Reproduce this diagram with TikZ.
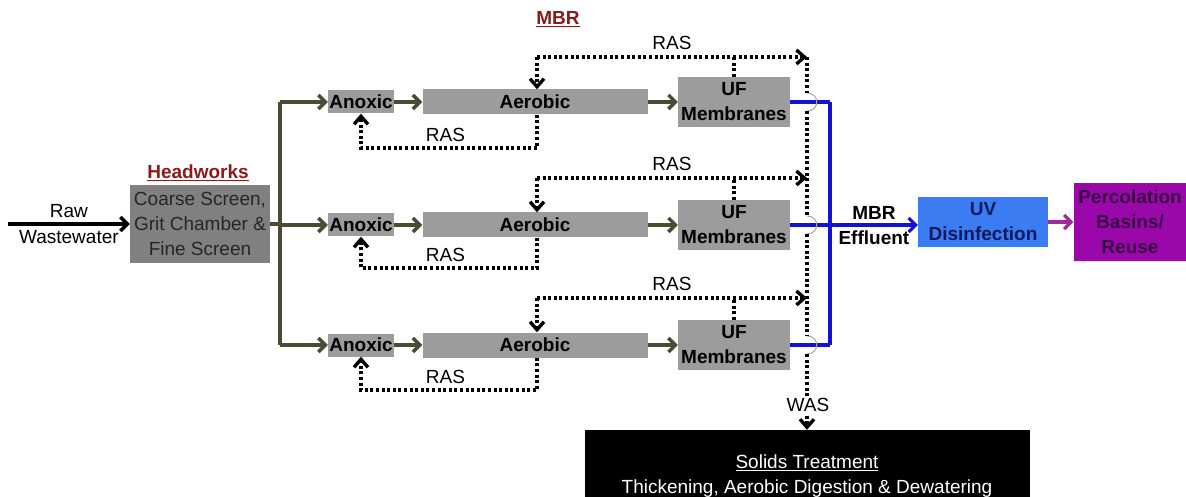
\documentclass[tikz,border=0pt]{standalone}
\usepackage{fontspec}
\setmainfont{Liberation Sans}
\usetikzlibrary{arrows.meta}

\definecolor{flowbrown}{HTML}{4D4A33}
\definecolor{tankgray}{HTML}{9C9C9C}
\definecolor{headgray}{HTML}{808080}
\definecolor{effblue}{HTML}{1212D6}
\definecolor{uvblue}{HTML}{3B7CF3}
\definecolor{uvtext}{HTML}{0B1A5C}
\definecolor{percpurple}{HTML}{9A08AA}
\definecolor{perctext}{HTML}{3A0046}
\definecolor{recmag}{HTML}{A0289A}
\definecolor{titlered}{HTML}{8B1A1A}

\newcommand{\diagfont}{\fontsize{19}{25}\selectfont}

\tikzset{
	tank/.style={fill=tankgray, inner sep=1pt, align=center, font=\diagfont\bfseries},
	flowline/.style={flowbrown, line width=3.4pt},
	flow/.style={flowline, -{Straight Barb[length=7pt,width=14pt]}},
	rasline/.style={line width=3.4pt, dash pattern=on 3pt off 2.6pt},
	ras/.style={rasline, -{Straight Barb[length=8pt,width=14pt]}},
	eff/.style={effblue, line width=3.2pt},
	jump/.style={gray!70, line width=1pt},
	title/.style={titlered, font=\diagfont\bfseries}
}

\begin{document}
\begin{tikzpicture}[x=1pt, y=-1pt, font=\diagfont]
\useasboundingbox (0,0) rectangle (1186,497);

% headworks
\node[title] (mbrtitle) at (558,19) {\underline{MBR}};
\node[title] (headtitle) at (198,173) {\underline{Headworks}};
\node[fill=headgray, text=black!85, align=center, inner sep=0pt,
	minimum width=140pt, minimum height=78pt] (head) at (200,224)
	{Coarse Screen,\\Grit Chamber \&\\Fine Screen};
\coordinate (rawin) at (8,224);
\draw[line width=3.4pt, -{Straight Barb[length=7pt,width=14pt]}] (rawin)
	-- node[above=1pt] {Raw} node[below=1pt] {Wastewater} (head.west |- rawin);

\coordinate (trunk) at (280,224);
\draw[flowline] (head) -- (trunk);

% three MBR trains
\foreach \i/\y/\yt/\yb in {1/102/57/148,2/225/178/268,3/345/298/390}{
	\node[tank, minimum width=66pt, minimum height=23pt] (anox\i) at (361,\y) {Anoxic};
	\node[tank, minimum width=225pt, minimum height=25pt] (aer\i) at (535,\y) {Aerobic};
	\node[tank, minimum width=112pt, minimum height=50pt] (uf\i) at (734,\y) {UF\\Membranes};
	\draw[flow] (trunk |- anox\i) -- (anox\i);
	\draw[flow] (anox\i) -- (aer\i);
	\draw[flow] (aer\i) -- (uf\i);

	\coordinate (top\i) at (537,\yt);
	\coordinate (bot\i) at (537,\yb);
	\coordinate (was\i) at (807,\yt);
	\coordinate (ja\i) at (807,\y-9);
	\coordinate (jb\i) at (807,\y+9);
	\coordinate (col\i) at (830,\y);

	\draw[rasline] (uf\i.north) -- (uf\i.north |- top\i);
	\draw[ras] (top\i) -- (top\i |- aer\i.north);
	\draw[ras] (top\i) -- node[above=2pt] {RAS} (was\i);
	\draw[ras] (bot\i |- aer\i.south) -- (bot\i) -- node[above=1pt, pos=0.52] {RAS} (anox\i.south |- bot\i) -- (anox\i.south);

	\draw[eff] (uf\i.east) -- (col\i);
	\draw[jump] (ja\i) .. controls (820,\y-9) and (820,\y+9) .. (jb\i);
}
\draw[flowline] (trunk |- anox1) -- (trunk |- anox3);
\draw[eff] (col1) -- (col3);

% effluent
\node[fill=uvblue, text=uvtext, align=center, inner sep=0pt, font=\diagfont\bfseries,
	minimum width=130pt, minimum height=50pt] (uv) at (983,222) {UV\\Disinfection};
\node[fill=percpurple, text=perctext, align=center, inner sep=0pt, font=\diagfont\bfseries,
	minimum width=113pt, minimum height=77pt] (perc) at (1130,222) {Percolation\\Basins/\\Reuse};
\draw[eff, -{Straight Barb[length=7pt,width=14pt]}] (col2)
	-- node[above=1pt, text=black, font=\diagfont\bfseries] {MBR}
	node[below=1pt, text=black, font=\diagfont\bfseries] {Effluent} (uv.west |- col2);
\draw[recmag, line width=3.2pt, -{Straight Barb[length=7pt,width=14pt]}] (uv) -- (perc);

% waste sludge
\node[fill=black, text=white, align=center, inner sep=0pt,
	minimum width=445pt, minimum height=92pt] (solids) at (807,476)
	{\underline{Solids Treatment}\\Thickening, Aerobic Digestion \& Dewatering};
\draw[rasline] (was1) -- (ja1) (jb1) -- (ja2) (jb2) -- (ja3);
\draw[ras] (jb3) -- (solids.north -| jb3);
\node[fill=white, inner sep=1pt] (waslabel) at (808,405) {WAS};
\end{tikzpicture}
\end{document}
